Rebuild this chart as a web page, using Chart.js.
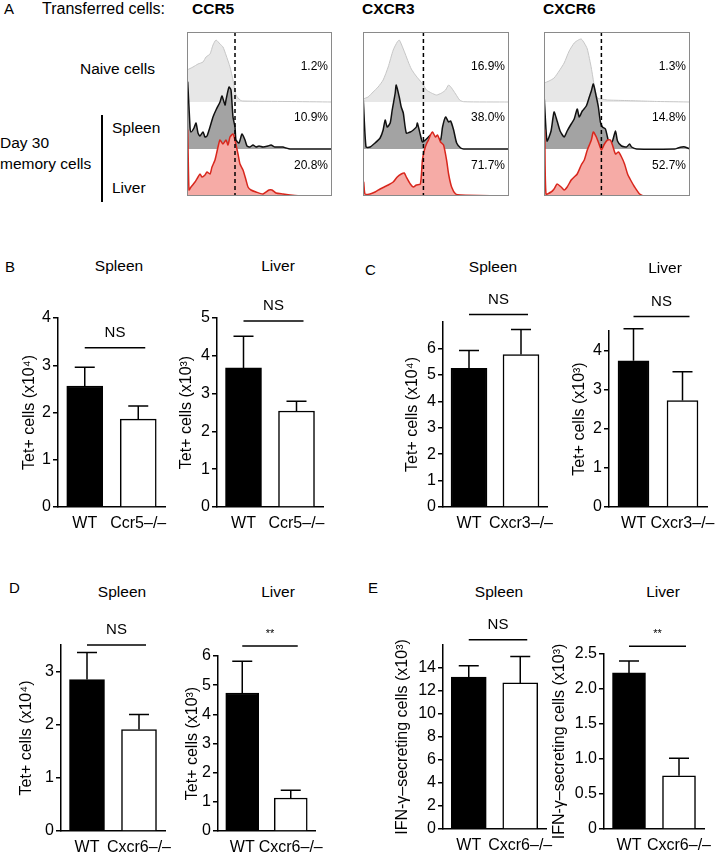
<!DOCTYPE html>
<html>
<head>
<meta charset="utf-8">
<script src="https://cdn.jsdelivr.net/npm/chart.js@4.4.1/dist/chart.umd.min.js"></script>
<style>
  body { margin: 0; background: #fff; }
  #fig { position: relative; width: 723px; height: 853px; overflow: hidden;
         font-family: "Liberation Sans", Arial, sans-serif; color: #000; }
  .t { position: absolute; white-space: nowrap; line-height: 1; }
  canvas { position: absolute; }
</style>
</head>
<body>
<div id="fig"></div>
<script>
// ---- panel A: flow histograms, [channel, count] ----
const markers = ['CCR5', 'CXCR3', 'CXCR6'];
const gates = [48, 60, 57];
const naivePct = ['1.2%', '16.9%', '1.3%'];
const spleenPct = ['10.9%', '38.0%', '14.8%'];
const liverPct = ['20.8%', '71.7%', '52.7%'];

const ccr5Naive = [[0,32],[6,35],[11,38],[16,40],[19,45],[23,48],[26,57],[29,62],[33,58],[36,55],[39,47],[43,35],[46,22],[49,7],[53,2],[56,1],[100,0.5],[145,0]];
const ccr5Spleen = [[0,67],[0.7,67],[3,22],[4,17],[7,21],[9,26],[11,16],[13,13],[16,17],[18,12],[20,13],[23,22],[26,32],[29,39],[33,47],[35,53],[38,44],[39,49],[42,62],[44,59],[46,32],[48,22],[49,9],[52,6],[55,15],[58,9],[60,3],[63,2],[66,4],[69,2],[72,3],[76,2],[81,3],[84,4],[88,2],[93,2],[96,2],[99,1],[103,0],[145,0]];
const ccr5Liver = [[0,66],[0.7,66],[2,6],[4,9],[8,14],[11,19],[13,22],[15,19],[18,21],[20,24],[23,22],[25,29],[28,36],[31,49],[33,56],[36,52],[39,56],[41,51],[43,59],[46,62],[48,56],[51,42],[53,32],[56,26],[59,16],[61,9],[64,6],[69,4],[76,2],[82,6],[85,6],[89,3],[96,2],[103,1],[111,0.3],[145,0]];

const cxcr3Naive = [[0,3],[5,5],[10,10],[15,15],[20,22],[25,35],[30,52],[34,60],[36,62],[38,58],[42,48],[45,40],[48,33],[52,27],[56,22],[60,17],[63,12],[68,9],[73,7],[78,9],[82,12],[85,17],[88,14],[92,8],[96,2],[100,0.3],[145,0]];
const cxcr3Spleen = [[0,49],[0.3,49],[3,2],[7,2],[12,6],[17,11],[20,19],[22,29],[24,22],[27,26],[29,39],[32,56],[33,64],[36,52],[38,42],[40,36],[43,16],[47,17],[50,19],[53,22],[54,26],[57,14],[59,7],[62,9],[65,12],[67,14],[70,11],[73,12],[77,9],[79,22],[82,32],[85,27],[87,28],[90,19],[93,6],[97,1],[100,0],[145,0]];
const cxcr3Liver = [[0,14],[0.7,14],[2,2],[7,2],[12,4],[17,7],[21,9],[25,11],[30,14],[34,19],[38,22],[41,23],[43,19],[47,12],[50,9],[53,11],[57,12],[59,36],[61,46],[63,52],[65,56],[67,61],[69,64],[72,59],[74,61],[77,54],[80,51],[83,36],[85,22],[88,9],[92,2],[97,1],[145,0]];

const cxcr6Naive = [[0,19],[5,21],[10,24],[15,31],[20,39],[25,51],[30,59],[34,62],[37,63],[40,59],[43,53],[47,34],[50,16],[53,4],[57,3],[63,2],[80,1.5],[97,1],[113,0.5],[145,0]];
const cxcr6Spleen = [[0,50],[0.3,50],[3,8],[7,18],[10,37],[13,28],[16,18],[20,12],[23,18],[27,25],[30,30],[33,40],[35,32],[38,38],[42,43],[45,52],[47,58],[49,65],[52,52],[54,42],[56,27],[58,22],[61,20],[63,12],[65,5],[68,8],[71,18],[73,8],[77,3],[82,2],[85,5],[87,2],[92,0],[130,0],[133,1],[137,2],[140,2],[145,0]];
const cxcr6Liver = [[0,66],[0.7,66],[2,2],[7,4],[10,7],[13,12],[17,9],[20,6],[23,9],[27,16],[30,19],[33,22],[37,31],[40,36],[43,46],[47,56],[49,64],[52,59],[55,51],[57,46],[60,52],[63,56],[66,56],[68,51],[71,42],[74,44],[77,39],[80,32],[83,22],[86,16],[90,9],[95,2],[100,0],[145,0]];

const naiveCurves = [ccr5Naive, cxcr3Naive, cxcr6Naive];
const spleenCurves = [ccr5Spleen, cxcr3Spleen, cxcr6Spleen];
const liverCurves = [ccr5Liver, cxcr3Liver, cxcr6Liver];

// ---- panels B-E: bar charts (mean, SEM) ----
const ccr5Labels = ['WT', 'Ccr5–/–'];
const cxcr3Labels = ['WT', 'Cxcr3–/–'];
const cxcr6Labels = ['WT', 'Cxcr6–/–'];

const ccr5Spleen4 = [2.56, 1.86], ccr5Spleen4Sem = [0.40, 0.28];
const ccr5Liver3 = [3.68, 2.54], ccr5Liver3Sem = [0.84, 0.26];
const cxcr3Spleen4 = [5.25, 5.77], cxcr3Spleen4Sem = [0.67, 0.95];
const cxcr3Liver3 = [3.74, 2.72], cxcr3Liver3Sem = [0.82, 0.74];
const cxcr6Spleen4 = [2.85, 1.91], cxcr6Spleen4Sem = [0.51, 0.28];
const cxcr6Liver3 = [4.73, 1.13], cxcr6Liver3Sem = [1.09, 0.27];
const ifnSpleen3 = [13.2, 12.7], ifnSpleen3Sem = [1.0, 2.3];
const ifnLiver3 = [2.23, 0.76], ifnLiver3Sem = [0.17, 0.25];

const ticksB1 = [0, 1, 2, 3, 4];
const ticksB2 = [0, 1, 2, 3, 4, 5];
const ticksC1 = [0, 1, 2, 3, 4, 5, 6];
const ticksC2 = [0, 1, 2, 3, 4];
const ticksD1 = [0, 1, 2, 3];
const ticksD2 = [0, 1, 2, 3, 4, 5, 6];
const ticksE1 = [0, 2, 4, 6, 8, 10, 12, 14];
const ticksE2 = [0, 0.5, 1.0, 1.5, 2.0, 2.5];

const tet4 = 'Tet+ cells (x10⁴)';
const tet3 = 'Tet+ cells (x10³)';
const ifn3 = 'IFN-γ–secreting cells (x10³)';

const fig = document.getElementById('fig');
const FONT = '"Liberation Sans", Arial, sans-serif';

function txt(s, x, y, size, align, style) {
  const d = document.createElement('div');
  d.className = 't';
  d.textContent = s;
  const tx = align === 'c' ? '-50%' : align === 'r' ? '-100%' : '0';
  d.style.cssText = `left:${x}px;top:${y}px;font-size:${size}px;transform:translate(${tx},-50%);` + (style || '');
  fig.appendChild(d);
}

function addCanvas(left, top, w, h) {
  const cv = document.createElement('canvas');
  cv.width = w; cv.height = h;
  cv.style.left = left + 'px'; cv.style.top = top + 'px';
  cv.style.width = w + 'px'; cv.style.height = h + 'px';
  fig.appendChild(cv);
  return cv;
}

// box + dashed gate for the histograms
const histoDeco = {
  id: 'histoDeco',
  afterDraw(chart, args, opts) {
    const { ctx, chartArea: a } = chart;
    const gx = chart.scales.x.getPixelForValue(opts.gate);
    ctx.save();
    ctx.strokeStyle = '#000';
    ctx.lineWidth = 1.5;
    ctx.setLineDash([4, 3]);
    ctx.beginPath();
    ctx.moveTo(gx, a.top); ctx.lineTo(gx, a.bottom);
    ctx.stroke();
    ctx.setLineDash([]);
    ctx.strokeStyle = '#8a8a8a';
    ctx.lineWidth = 1;
    ctx.strokeRect(a.left + 0.5, a.top + 0.5, a.right - a.left - 1, a.bottom - a.top - 1);
    ctx.restore();
  }
};

function histo(i, left, top, w, h) {
  const cv = addCanvas(left - 1, top - 1, w + 2, h + 2);
  const rows = [
    [naiveCurves[i], 94, '#e7e7e7', '#c6c6c6', 1, 3],
    [spleenCurves[i], 47, '#a3a3a3', '#111', 1.5, 2],
    [liverCurves[i], 0, '#f6aba6', '#d8271d', 1.5, 1]
  ];
  new Chart(cv, {
    type: 'line',
    data: {
      datasets: rows.map(([pts, base, fill, line, lw, order]) => ({
        data: pts.map(([x, c]) => ({ x, y: base + c })),
        fill: { value: base },
        backgroundColor: fill,
        borderColor: line,
        borderWidth: lw,
        pointRadius: 0,
        tension: 0.2,
        order
      }))
    },
    options: {
      responsive: false, animation: false, devicePixelRatio: 1,
      layout: { padding: 1 },
      plugins: { legend: { display: false }, tooltip: { enabled: false }, histoDeco: { gate: gates[i] } },
      scales: {
        x: { type: 'linear', display: false, min: 0, max: 145 },
        y: { display: false, min: 0, max: 164 }
      }
    },
    plugins: [histoDeco]
  });
}

// error bars + significance line
const barDeco = {
  id: 'barDeco',
  afterDatasetsDraw(chart, args, opts) {
    const { ctx } = chart;
    const y = chart.scales.y;
    const bars = chart.getDatasetMeta(0).data;
    ctx.save();
    ctx.strokeStyle = '#000';
    ctx.lineWidth = 1.5;
    bars.forEach((b, i) => {
      const ty = y.getPixelForValue(opts.means[i] + opts.sems[i]);
      ctx.beginPath();
      ctx.moveTo(b.x, b.y); ctx.lineTo(b.x, ty);
      ctx.moveTo(b.x - 10, ty); ctx.lineTo(b.x + 10, ty);
      ctx.stroke();
    });
    const sy = y.getPixelForValue(opts.sigAt);
    const x0 = bars[0].x, x1 = bars[1].x + 7;
    ctx.beginPath();
    ctx.moveTo(x0, sy); ctx.lineTo(x1, sy);
    ctx.stroke();
    ctx.fillStyle = '#000';
    ctx.textAlign = 'center';
    ctx.textBaseline = 'middle';
    if (opts.sig === 'NS') {
      ctx.font = '15px ' + FONT;
      ctx.fillText('NS', (x0 + x1) / 2, sy - 15);
    } else {
      ctx.font = '11px ' + FONT;
      ctx.fillText(opts.sig, (x0 + x1) / 2, sy - 12);
    }
    ctx.restore();
  }
};

function barChart(L, labels, means, sems, ticks, max, yTitle, sig, sigAt, fmt) {
  const padT = 50, padR = 40, xH = 30;
  const left = L.titleX - 12, top = L.top - padT;
  const w = L.right + padR - left, h = L.bottom + xH - top;
  const cv = addCanvas(left, top, w, h);
  new Chart(cv, {
    type: 'bar',
    data: {
      labels,
      datasets: [{
        data: means,
        backgroundColor: ['#000', '#fff'],
        borderColor: '#000',
        borderWidth: 1.5,
        barThickness: L.bar
      }]
    },
    options: {
      responsive: false, animation: false, devicePixelRatio: 1,
      layout: { padding: { top: padT, right: padR, left: 0, bottom: 0 } },
      plugins: {
        legend: { display: false }, tooltip: { enabled: false },
        barDeco: { means, sems, sig, sigAt }
      },
      scales: {
        x: {
          grid: { display: false, drawTicks: false },
          border: { color: '#000', width: 1.5 },
          ticks: {
            color: '#000', padding: 7, autoSkip: false, maxRotation: 0, minRotation: 0,
            font: { family: '"Liberation Sans Narrow", ' + FONT, size: 16 }
          },
          afterFit: s => { s.height = xH; }
        },
        y: {
          min: 0, max,
          afterBuildTicks: s => { s.ticks = ticks.map(v => ({ value: v })); },
          grid: { drawOnChartArea: false, color: '#000', lineWidth: 1.5, tickLength: 5 },
          border: { color: '#000', width: 1.5 },
          ticks: { color: '#000', padding: 2, font: { family: FONT, size: 16 }, callback: v => fmt ? fmt(v) : String(v) },
          title: { display: true, text: yTitle, color: '#000', font: { family: FONT, size: 16 }, padding: { top: 2.4, bottom: 0 } },
          afterFit: s => { s.width = L.axisX - left; }
        }
      }
    },
    plugins: [barDeco]
  });
}

// ---- panel A ----
txt('A', 4, 8, 15);
txt('Transferred cells:', 42, 9, 16);
[192, 362, 543].forEach((x, i) => txt(markers[i], x, 9, 15.5, 'l', 'font-weight:bold'));
txt('Naive cells', 155, 69, 15.5, 'r');
txt('Spleen', 112, 128, 15.5);
txt('Liver', 112, 188, 15.5);
txt('Day 30', 0, 143, 15.5);
txt('memory cells', 0, 164, 15.5);
const bar = document.createElement('div');
bar.style.cssText = 'position:absolute;left:101px;top:115px;width:2px;height:87px;background:#000;';
fig.appendChild(bar);

const boxes = [[187, 145], [363, 146], [544, 146]];
boxes.forEach(([x, w], i) => {
  histo(i, x, 32, w, 164);
  const r = x + w - 4;
  txt(naivePct[i], r, 66, 12, 'r');
  txt(spleenPct[i], r, 117, 12, 'r');
  txt(liverPct[i], r, 165, 12, 'r');
});

// ---- panels B-E ----
txt('B', 5, 266, 15);
txt('C', 365, 269, 15);
txt('D', 9, 587, 15);
txt('E', 368, 587, 15);
[[119, 266], [278, 266], [493, 267], [665, 268], [122, 592], [278, 592], [499, 592], [663, 592]]
  .forEach(([x, y], i) => txt(i % 2 ? 'Liver' : 'Spleen', x, y, 15.5, 'c'));

barChart({ axisX: 58, right: 165, top: 318, bottom: 507, titleX: 30, bar: 36 },
  ccr5Labels, ccr5Spleen4, ccr5Spleen4Sem, ticksB1, 4, tet4, 'NS', 3.37);
barChart({ axisX: 217, right: 323, top: 318, bottom: 507, titleX: 187, bar: 36 },
  ccr5Labels, ccr5Liver3, ccr5Liver3Sem, ticksB2, 5, tet3, 'NS', 4.92);
barChart({ axisX: 443, right: 547, top: 322, bottom: 507, titleX: 413, bar: 36 },
  cxcr3Labels, cxcr3Spleen4, cxcr3Spleen4Sem, ticksC1, 7, tet4, 'NS', 7.28);
barChart({ axisX: 609, right: 707, top: 331, bottom: 507, titleX: 580, bar: 31 },
  cxcr3Labels, cxcr3Liver3, cxcr3Liver3Sem, ticksC2, 4.5, tet3, 'NS', 4.87);
barChart({ axisX: 61, right: 165, top: 645, bottom: 831, titleX: 27, bar: 35 },
  cxcr6Labels, cxcr6Spleen4, cxcr6Spleen4Sem, ticksD1, 3.5, tet4, 'NS', 3.5);
barChart({ axisX: 218, right: 315, top: 656, bottom: 831, titleX: 193, bar: 33 },
  cxcr6Labels, cxcr6Liver3, cxcr6Liver3Sem, ticksD2, 6, tet3, '**', 6.34);
barChart({ axisX: 443, right: 546, top: 645, bottom: 829, titleX: 403, bar: 35 },
  cxcr6Labels, ifnSpleen3, ifnSpleen3Sem, ticksE1, 16, ifn3, 'NS', 16.45);
barChart({ axisX: 604, right: 704, top: 654, bottom: 829, titleX: 560, bar: 33 },
  cxcr6Labels, ifnLiver3, ifnLiver3Sem, ticksE2, 2.5, ifn3, '**', 2.61, v => v === 0 ? '0' : v.toFixed(1));
</script>
</body>
</html>
